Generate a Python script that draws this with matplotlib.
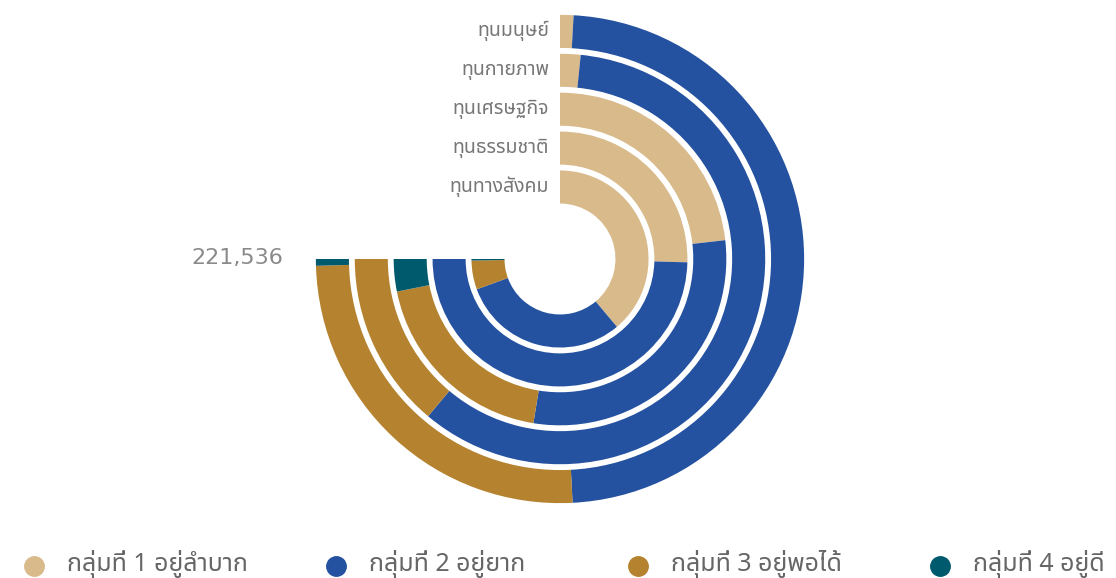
import numpy as np
import matplotlib
matplotlib.use('Agg')
import matplotlib.pyplot as plt
from matplotlib.lines import Line2D

plt.rcParams['font.family'] = ['Noto Sans Thai', 'Sarabun', 'DejaVu Sans']

# rings, inner -> outer
categories = ['ทุนทางสังคม', 'ทุนธรรมชาติ', 'ทุนเศรษฐกิจ', 'ทุนกายภาพ', 'ทุนมนุษย์']
groups = ['กลุ่มที่ 1 อยู่ลำบาก', 'กลุ่มที่ 2 อยู่ยาก', 'กลุ่มที่ 3 อยู่พอได้', 'กลุ่มที่ 4 อยู่ดี']
colors = ['#D9BA8B', '#2452A0', '#B5832F', '#005A6E']

g1 = [114870, 75076, 68512, 4759, 2626]
g2 = [90255, 146460, 86727, 175747, 142640]
g3 = [15590, 0, 57025, 41030, 74957]
g4 = [821, 0, 9272, 0, 1313]

TOTAL = 221536
SPAN = 1.5 * np.pi   # the angle axis covers 270 degrees

W, H = 1116, 578
cx, cy, R = 560, 259, 250

fig = plt.figure(figsize=(W / 100, H / 100), dpi=100)
ax = fig.add_axes([(cx - R) / W, (H - cy - R) / H, 2 * R / W, 2 * R / H], projection='polar')
ax.set_theta_zero_location('N')
ax.set_theta_direction(-1)
ax.set_ylim(-1.851, 4.576)
ax.axis('off')

y = np.arange(len(categories))
left = np.zeros(len(categories))
for vals, col in zip([g1, g2, g3, g4], colors):
    width = np.array(vals) / TOTAL * SPAN
    ax.barh(y, width, height=0.85, left=left, color=col, edgecolor='none', linewidth=0)
    left = left + width

for i, name in enumerate(categories):
    ax.annotate(name, xy=(0, i), xytext=(-8, 0), textcoords='offset points',
                ha='right', va='center', fontsize=14, color='#777777')

ax.annotate(f'{TOTAL:,}', xy=(SPAN, 4.576), xytext=(-19, 1), textcoords='offset points',
            ha='right', va='center', fontsize=16, color='#8a8a8a',
            family=['DejaVu Sans'])

# legend row
for i, (name, col) in enumerate(zip(groups, colors)):
    x0 = 34 + 302 * i
    fig.add_artist(Line2D([x0 / W], [1 - 566 / H], marker='o', markersize=14,
                          color=col, linestyle='none', transform=fig.transFigure))
    fig.text((x0 + 33) / W, 1 - 564 / H, name, ha='left', va='center',
             fontsize=18, color='#666666', fontweight='bold')

fig.savefig('out.png', dpi=100)
